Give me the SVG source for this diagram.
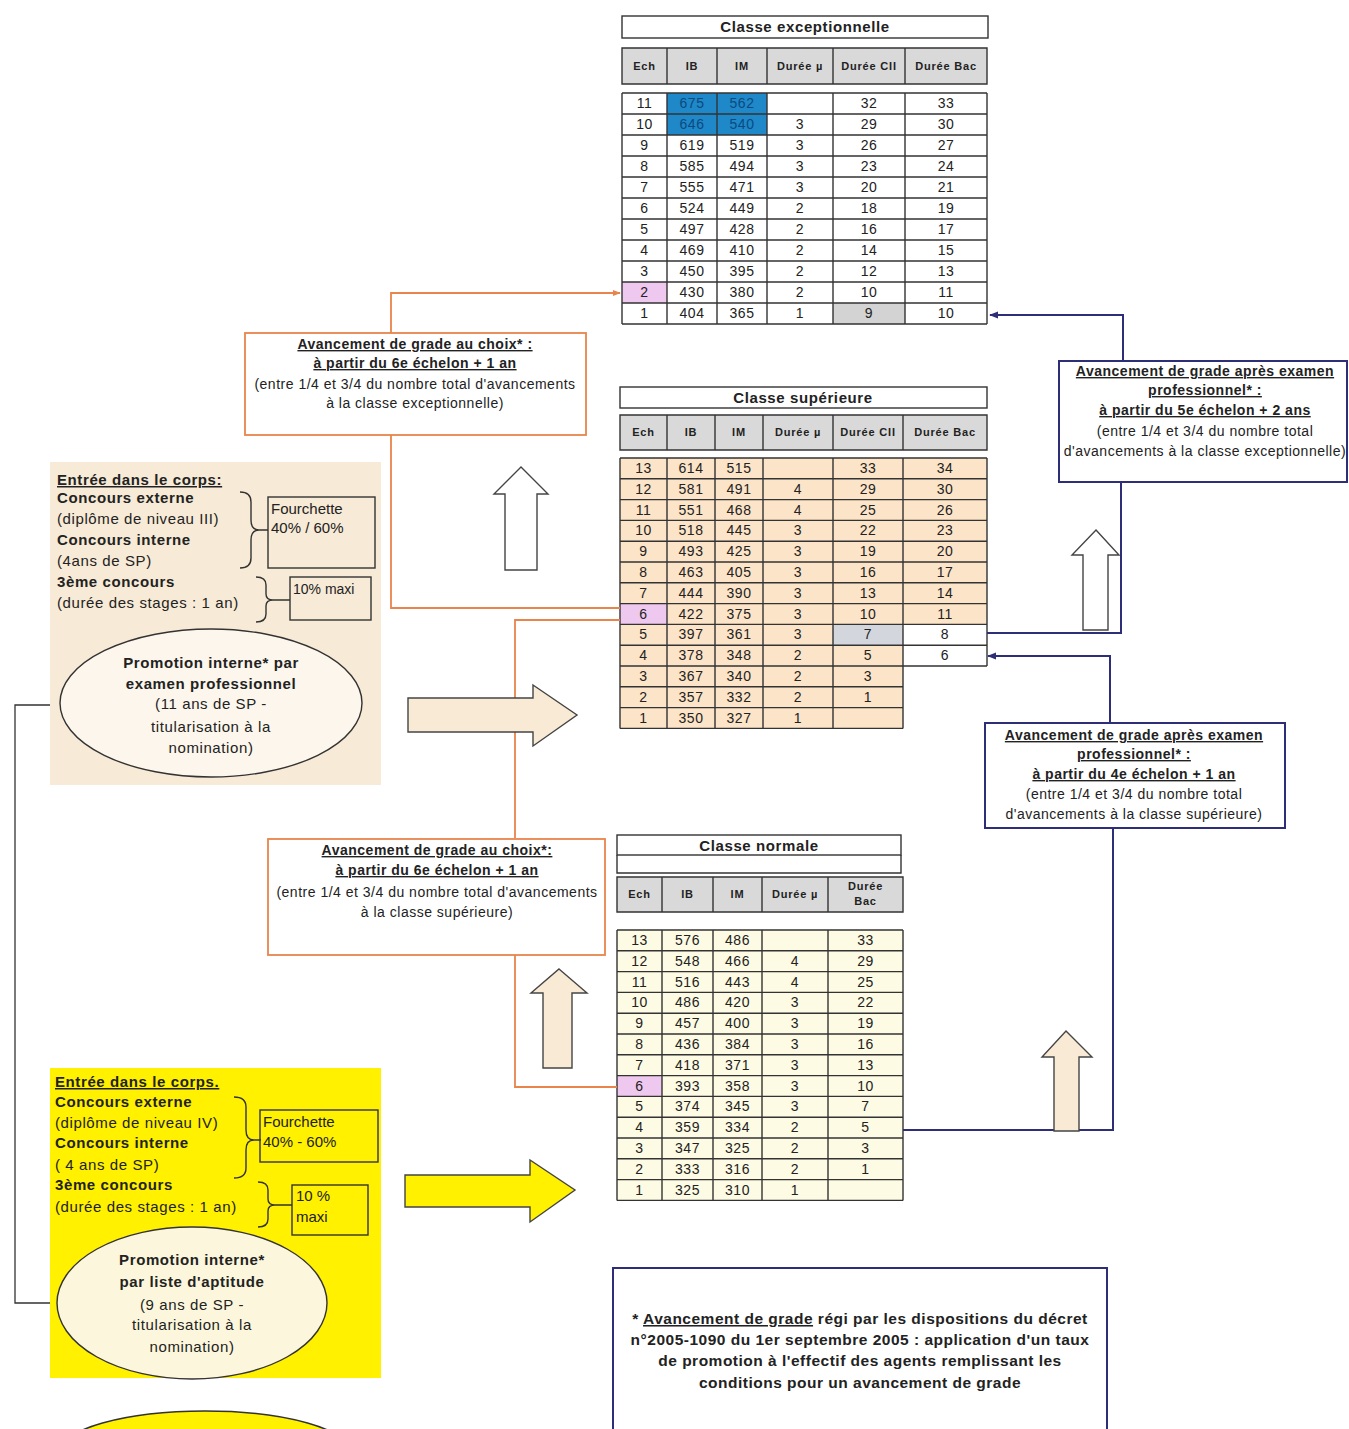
<svg xmlns="http://www.w3.org/2000/svg" width="1349" height="1429" viewBox="0 0 1349 1429">
<style>
text{font-family:"Liberation Sans",Arial,sans-serif;fill:#222}
.num{font-size:14px;letter-spacing:0.5px;text-anchor:middle}
.hd{font-size:11px;letter-spacing:0.8px;font-weight:bold;text-anchor:middle}
.ttl{font-size:15px;letter-spacing:0.6px;font-weight:bold;text-anchor:middle}
.grid{stroke:#333;stroke-width:1.4;fill:none}
.b{font-weight:bold}
.u{text-decoration:underline}
.lt{font-size:15px;letter-spacing:0.6px}
.bx{font-size:14px;letter-spacing:0.5px;text-anchor:middle}
.brace{stroke:#333;stroke-width:1.4;fill:none}
.or{stroke:#e8844c;stroke-width:1.8;fill:none}
.bl{stroke:#2e2e78;stroke-width:2;fill:none}
.bigarrow{stroke:#444;stroke-width:1.4}
.fn{font-size:15.5px;letter-spacing:0.5px;font-weight:bold;text-anchor:middle}
</style>
<defs>
<marker id="mOr" viewBox="0 0 10 10" refX="9" refY="5" markerWidth="8" markerHeight="8" markerUnits="userSpaceOnUse" orient="auto"><path d="M0,1 L10,5 L0,9 z" fill="#e8844c"/></marker>
<marker id="mBl" viewBox="0 0 10 10" refX="9" refY="5" markerWidth="9" markerHeight="9" markerUnits="userSpaceOnUse" orient="auto"><path d="M0,1 L10,5 L0,9 z" fill="#2e2e78"/></marker>
</defs>
<rect width="1349" height="1429" fill="#ffffff"/>

<!-- Classe exceptionnelle -->
<g id="table-exceptionnelle">
<rect x="622" y="16" width="366" height="22" fill="#fff" class="grid"/>
<text class="ttl" x="805" y="32">Classe exceptionnelle</text>
<rect x="622" y="48" width="365" height="36" fill="#d9d9d9"/>
<path class="grid" d="M622 48H987V84H622Z M667 48V84 M717 48V84 M767 48V84 M833 48V84 M905 48V84"/>
<text class="hd" y="70"><tspan x="644.5">Ech</tspan><tspan x="692">IB</tspan><tspan x="742">IM</tspan><tspan x="800">Durée µ</tspan><tspan x="869">Durée CII</tspan><tspan x="946">Durée Bac</tspan></text>
<rect x="622" y="93" width="365" height="231" fill="#fff"/>
<rect x="667" y="93" width="100" height="42" fill="#1e88c8"/>
<rect x="622" y="282" width="45" height="21" fill="#efc8ef"/>
<rect x="833" y="303" width="72" height="21" fill="#d3d3d3"/>
<path class="grid" d="M622 93H987M622 114H987M622 135H987M622 156H987M622 177H987M622 198H987M622 219H987M622 240H987M622 261H987M622 282H987M622 303H987M622 324H987 M622 93V324M667 93V324M717 93V324M767 93V324M833 93V324M905 93V324M987 93V324"/>
<text class="num" y="108"><tspan x="644.5">11</tspan><tspan x="692" style="fill:#0d4a80">675</tspan><tspan x="742" style="fill:#0d4a80">562</tspan><tspan x="869">32</tspan><tspan x="946">33</tspan></text>
<text class="num" y="129"><tspan x="644.5">10</tspan><tspan x="692" style="fill:#0d4a80">646</tspan><tspan x="742" style="fill:#0d4a80">540</tspan><tspan x="800">3</tspan><tspan x="869">29</tspan><tspan x="946">30</tspan></text>
<text class="num" y="150"><tspan x="644.5">9</tspan><tspan x="692">619</tspan><tspan x="742">519</tspan><tspan x="800">3</tspan><tspan x="869">26</tspan><tspan x="946">27</tspan></text>
<text class="num" y="171"><tspan x="644.5">8</tspan><tspan x="692">585</tspan><tspan x="742">494</tspan><tspan x="800">3</tspan><tspan x="869">23</tspan><tspan x="946">24</tspan></text>
<text class="num" y="192"><tspan x="644.5">7</tspan><tspan x="692">555</tspan><tspan x="742">471</tspan><tspan x="800">3</tspan><tspan x="869">20</tspan><tspan x="946">21</tspan></text>
<text class="num" y="213"><tspan x="644.5">6</tspan><tspan x="692">524</tspan><tspan x="742">449</tspan><tspan x="800">2</tspan><tspan x="869">18</tspan><tspan x="946">19</tspan></text>
<text class="num" y="234"><tspan x="644.5">5</tspan><tspan x="692">497</tspan><tspan x="742">428</tspan><tspan x="800">2</tspan><tspan x="869">16</tspan><tspan x="946">17</tspan></text>
<text class="num" y="255"><tspan x="644.5">4</tspan><tspan x="692">469</tspan><tspan x="742">410</tspan><tspan x="800">2</tspan><tspan x="869">14</tspan><tspan x="946">15</tspan></text>
<text class="num" y="276"><tspan x="644.5">3</tspan><tspan x="692">450</tspan><tspan x="742">395</tspan><tspan x="800">2</tspan><tspan x="869">12</tspan><tspan x="946">13</tspan></text>
<text class="num" y="297"><tspan x="644.5">2</tspan><tspan x="692">430</tspan><tspan x="742">380</tspan><tspan x="800">2</tspan><tspan x="869">10</tspan><tspan x="946">11</tspan></text>
<text class="num" y="318"><tspan x="644.5">1</tspan><tspan x="692">404</tspan><tspan x="742">365</tspan><tspan x="800">1</tspan><tspan x="869">9</tspan><tspan x="946">10</tspan></text>
</g>

<!-- Classe supérieure -->
<g id="table-superieure">
<rect x="620" y="387" width="367" height="21" fill="#fce4c8" class="grid"/>
<text class="ttl" x="803" y="403">Classe supérieure</text>
<rect x="620" y="415" width="367" height="35" fill="#d9d9d9"/>
<path class="grid" d="M620 415H987V450H620Z M667 415V450 M715 415V450 M763 415V450 M833 415V450 M903 415V450"/>
<text class="hd" y="436"><tspan x="643.5">Ech</tspan><tspan x="691">IB</tspan><tspan x="739">IM</tspan><tspan x="798">Durée µ</tspan><tspan x="868">Durée CII</tspan><tspan x="945">Durée Bac</tspan></text>
<rect x="620" y="458" width="367" height="208" fill="#fce4c8"/>
<rect x="620" y="666" width="283" height="62.4" fill="#fce4c8"/>
<rect x="903" y="624.4" width="84" height="41.6" fill="#fff"/>
<rect x="620" y="603.6" width="47" height="20.8" fill="#efc8ef"/>
<rect x="833" y="624.4" width="70" height="20.8" fill="#d3d6dc"/>
<path class="grid" d="M620 458H987M620 478.8H987M620 499.6H987M620 520.4H987M620 541.2H987M620 562H987M620 582.8H987M620 603.6H987M620 624.4H987M620 645.2H987M620 666H987M620 686.8H903M620 707.6H903M620 728.4H903 M620 458V728.4M667 458V728.4M715 458V728.4M763 458V728.4M833 458V728.4M903 458V728.4M987 458V666"/>
<text class="num" y="473"><tspan x="643.5">13</tspan><tspan x="691">614</tspan><tspan x="739">515</tspan><tspan x="868">33</tspan><tspan x="945">34</tspan></text>
<text class="num" y="494"><tspan x="643.5">12</tspan><tspan x="691">581</tspan><tspan x="739">491</tspan><tspan x="798">4</tspan><tspan x="868">29</tspan><tspan x="945">30</tspan></text>
<text class="num" y="515"><tspan x="643.5">11</tspan><tspan x="691">551</tspan><tspan x="739">468</tspan><tspan x="798">4</tspan><tspan x="868">25</tspan><tspan x="945">26</tspan></text>
<text class="num" y="535"><tspan x="643.5">10</tspan><tspan x="691">518</tspan><tspan x="739">445</tspan><tspan x="798">3</tspan><tspan x="868">22</tspan><tspan x="945">23</tspan></text>
<text class="num" y="556"><tspan x="643.5">9</tspan><tspan x="691">493</tspan><tspan x="739">425</tspan><tspan x="798">3</tspan><tspan x="868">19</tspan><tspan x="945">20</tspan></text>
<text class="num" y="577"><tspan x="643.5">8</tspan><tspan x="691">463</tspan><tspan x="739">405</tspan><tspan x="798">3</tspan><tspan x="868">16</tspan><tspan x="945">17</tspan></text>
<text class="num" y="598"><tspan x="643.5">7</tspan><tspan x="691">444</tspan><tspan x="739">390</tspan><tspan x="798">3</tspan><tspan x="868">13</tspan><tspan x="945">14</tspan></text>
<text class="num" y="619"><tspan x="643.5">6</tspan><tspan x="691">422</tspan><tspan x="739">375</tspan><tspan x="798">3</tspan><tspan x="868">10</tspan><tspan x="945">11</tspan></text>
<text class="num" y="639"><tspan x="643.5">5</tspan><tspan x="691">397</tspan><tspan x="739">361</tspan><tspan x="798">3</tspan><tspan x="868">7</tspan><tspan x="945">8</tspan></text>
<text class="num" y="660"><tspan x="643.5">4</tspan><tspan x="691">378</tspan><tspan x="739">348</tspan><tspan x="798">2</tspan><tspan x="868">5</tspan><tspan x="945">6</tspan></text>
<text class="num" y="681"><tspan x="643.5">3</tspan><tspan x="691">367</tspan><tspan x="739">340</tspan><tspan x="798">2</tspan><tspan x="868">3</tspan></text>
<text class="num" y="702"><tspan x="643.5">2</tspan><tspan x="691">357</tspan><tspan x="739">332</tspan><tspan x="798">2</tspan><tspan x="868">1</tspan></text>
<text class="num" y="723"><tspan x="643.5">1</tspan><tspan x="691">350</tspan><tspan x="739">327</tspan><tspan x="798">1</tspan></text>
</g>

<!-- Classe normale -->
<g id="table-normale">
<rect x="617" y="835" width="284" height="20" fill="#fdfbe4" class="grid"/>
<path class="grid" d="M617 855V873H901V855"/>
<text class="ttl" x="759" y="851">Classe normale</text>
<rect x="617" y="877" width="286" height="35" fill="#d9d9d9"/>
<path class="grid" d="M617 877H903V912H617Z M662 877V912 M713 877V912 M762 877V912 M828 877V912"/>
<text class="hd" y="898"><tspan x="639.5">Ech</tspan><tspan x="687.5">IB</tspan><tspan x="737.5">IM</tspan><tspan x="795">Durée µ</tspan></text>
<text class="hd" x="865.5" y="890">Durée</text>
<text class="hd" x="865.5" y="905">Bac</text>
<rect x="617" y="930" width="286" height="270.4" fill="#fdfbe4"/>
<rect x="617" y="1075.6" width="45" height="20.8" fill="#efc8ef"/>
<path class="grid" d="M617 930H903M617 950.8H903M617 971.6H903M617 992.4H903M617 1013.2H903M617 1034H903M617 1054.8H903M617 1075.6H903M617 1096.4H903M617 1117.2H903M617 1138H903M617 1158.8H903M617 1179.6H903M617 1200.4H903 M617 930V1200.4M662 930V1200.4M713 930V1200.4M762 930V1200.4M828 930V1200.4M903 930V1200.4"/>
<text class="num" y="945"><tspan x="639.5">13</tspan><tspan x="687.5">576</tspan><tspan x="737.5">486</tspan><tspan x="865.5">33</tspan></text>
<text class="num" y="966"><tspan x="639.5">12</tspan><tspan x="687.5">548</tspan><tspan x="737.5">466</tspan><tspan x="795">4</tspan><tspan x="865.5">29</tspan></text>
<text class="num" y="987"><tspan x="639.5">11</tspan><tspan x="687.5">516</tspan><tspan x="737.5">443</tspan><tspan x="795">4</tspan><tspan x="865.5">25</tspan></text>
<text class="num" y="1007"><tspan x="639.5">10</tspan><tspan x="687.5">486</tspan><tspan x="737.5">420</tspan><tspan x="795">3</tspan><tspan x="865.5">22</tspan></text>
<text class="num" y="1028"><tspan x="639.5">9</tspan><tspan x="687.5">457</tspan><tspan x="737.5">400</tspan><tspan x="795">3</tspan><tspan x="865.5">19</tspan></text>
<text class="num" y="1049"><tspan x="639.5">8</tspan><tspan x="687.5">436</tspan><tspan x="737.5">384</tspan><tspan x="795">3</tspan><tspan x="865.5">16</tspan></text>
<text class="num" y="1070"><tspan x="639.5">7</tspan><tspan x="687.5">418</tspan><tspan x="737.5">371</tspan><tspan x="795">3</tspan><tspan x="865.5">13</tspan></text>
<text class="num" y="1091"><tspan x="639.5">6</tspan><tspan x="687.5">393</tspan><tspan x="737.5">358</tspan><tspan x="795">3</tspan><tspan x="865.5">10</tspan></text>
<text class="num" y="1111"><tspan x="639.5">5</tspan><tspan x="687.5">374</tspan><tspan x="737.5">345</tspan><tspan x="795">3</tspan><tspan x="865.5">7</tspan></text>
<text class="num" y="1132"><tspan x="639.5">4</tspan><tspan x="687.5">359</tspan><tspan x="737.5">334</tspan><tspan x="795">2</tspan><tspan x="865.5">5</tspan></text>
<text class="num" y="1153"><tspan x="639.5">3</tspan><tspan x="687.5">347</tspan><tspan x="737.5">325</tspan><tspan x="795">2</tspan><tspan x="865.5">3</tspan></text>
<text class="num" y="1174"><tspan x="639.5">2</tspan><tspan x="687.5">333</tspan><tspan x="737.5">316</tspan><tspan x="795">2</tspan><tspan x="865.5">1</tspan></text>
<text class="num" y="1195"><tspan x="639.5">1</tspan><tspan x="687.5">325</tspan><tspan x="737.5">310</tspan><tspan x="795">1</tspan></text>
</g>

<!-- Connectors -->
<g id="connectors">
<path class="or" d="M620 608H391V435"/>
<path class="or" d="M391 333V293H620" marker-end="url(#mOr)"/>
<path class="or" d="M617 1087H515V955"/>
<path class="or" d="M515 838V620H620"/>
<path class="bl" d="M987 633H1121V482"/>
<path class="bl" d="M1123 361V315H990" marker-end="url(#mBl)"/>
<path class="bl" d="M903 1130H1113V829"/>
<path class="bl" d="M1110 722V656H988" marker-end="url(#mBl)"/>
<path d="M60 705H15V1303H57" stroke="#333" stroke-width="1.3" fill="none"/>
</g>

<!-- Beige entry box -->
<g id="entree-beige">
<rect x="50" y="462" width="331" height="323" fill="#f7ead6"/>
<text class="lt b u" x="57" y="485">Entrée dans le corps:</text>
<text class="lt b" x="57" y="503">Concours externe</text>
<text class="lt" x="57" y="524">(diplôme de niveau III)</text>
<text class="lt b" x="57" y="545">Concours interne</text>
<text class="lt" x="57" y="566">(4ans de SP)</text>
<text class="lt b" x="57" y="587">3ème concours</text>
<text class="lt" x="57" y="608">(durée des stages : 1 an)</text>
<path class="brace" d="M240 492Q251 492 251 502V520Q251 530 259 530Q251 530 251 540V558Q251 568 240 568M259 530H268"/>
<path class="brace" d="M256 577Q266 577 266 585V594Q266 600 273 600Q266 600 266 606V614Q266 622 256 622M273 600H290"/>
<rect x="268" y="497" width="107" height="71" fill="none" stroke="#333" stroke-width="1.4"/>
<text class="lt" x="271" y="514" style="letter-spacing:0">Fourchette</text>
<text class="lt" x="271" y="533" style="letter-spacing:0">40% / 60%</text>
<rect x="290" y="577" width="81" height="43" fill="none" stroke="#333" stroke-width="1.4"/>
<text x="293" y="594" style="font-size:14px">10% maxi</text>
</g>
<g id="promo-examen">
<ellipse cx="211" cy="703" rx="151" ry="74" fill="#fcf6ec" stroke="#333" stroke-width="1.4"/>
<text class="lt b" x="211" y="668" text-anchor="middle">Promotion interne* par</text>
<text class="lt b" x="211" y="689" text-anchor="middle">examen professionnel</text>
<text class="lt" x="211" y="709" text-anchor="middle">(11 ans de SP -</text>
<text class="lt" x="211" y="732" text-anchor="middle">titularisation à la</text>
<text class="lt" x="211" y="753" text-anchor="middle">nomination)</text>
</g>

<!-- Yellow entry box -->
<g id="entree-jaune">
<rect x="50" y="1068" width="331" height="310" fill="#fff100"/>
<text class="lt b u" x="55" y="1087">Entrée dans le corps.</text>
<text class="lt b" x="55" y="1107">Concours externe</text>
<text class="lt" x="55" y="1128">(diplôme de niveau IV)</text>
<text class="lt b" x="55" y="1148">Concours interne</text>
<text class="lt" x="55" y="1170">( 4 ans de SP)</text>
<text class="lt b" x="55" y="1190">3ème concours</text>
<text class="lt" x="55" y="1212">(durée des stages : 1 an)</text>
<path class="brace" d="M234 1097Q246 1097 246 1107V1130Q246 1140 254 1140Q246 1140 246 1150V1168Q246 1178 234 1178M254 1140H261"/>
<path class="brace" d="M258 1182Q268 1182 268 1190V1199Q268 1205 275 1205Q268 1205 268 1211V1219Q268 1227 258 1227M275 1205H292"/>
<rect x="260" y="1110" width="118" height="52" fill="none" stroke="#333" stroke-width="1.4"/>
<text class="lt" x="263" y="1127" style="letter-spacing:0">Fourchette</text>
<text class="lt" x="263" y="1147" style="letter-spacing:0">40% - 60%</text>
<rect x="292" y="1185" width="76" height="50" fill="none" stroke="#333" stroke-width="1.4"/>
<text class="lt" x="296" y="1201" style="letter-spacing:0">10 %</text>
<text class="lt" x="296" y="1222" style="letter-spacing:0">maxi</text>
</g>
<g id="promo-liste">
<ellipse cx="192" cy="1303" rx="135" ry="76" fill="#fcf7dc" stroke="#333" stroke-width="1.4"/>
<text class="lt b" x="192" y="1265" text-anchor="middle">Promotion interne*</text>
<text class="lt b" x="192" y="1287" text-anchor="middle">par liste d'aptitude</text>
<text class="lt" x="192" y="1310" text-anchor="middle">(9 ans de SP -</text>
<text class="lt" x="192" y="1330" text-anchor="middle">titularisation à la</text>
<text class="lt" x="192" y="1352" text-anchor="middle">nomination)</text>
</g>
<g id="ellipse-bas">
<ellipse cx="205" cy="1452" rx="145" ry="41" fill="#fff100" stroke="#333" stroke-width="1.6"/>
</g>

<!-- Big arrows -->
<g id="big-arrows">
<polygon class="bigarrow" fill="#fff" points="521,467 548,494 537,494 537,570 505,570 505,494 494,494"/>
<polygon class="bigarrow" fill="#f8ead5" points="408,698 533,698 533,685 577,715 533,746 533,732 408,732"/>
<polygon class="bigarrow" fill="#f8ead5" points="559,969 587,993 572,993 572,1068 543,1068 543,993 531,993"/>
<polygon class="bigarrow" fill="#fff100" points="405,1175 530,1175 530,1160 575,1190 530,1222 530,1207 405,1207"/>
<polygon class="bigarrow" fill="#fff" points="1096,530 1119,555 1108,555 1108,630 1083,630 1083,555 1072,555"/>
<polygon class="bigarrow" fill="#f8ead5" points="1066,1031 1092,1057 1079,1057 1079,1131 1054,1131 1054,1057 1042,1057"/>
</g>

<!-- Orange boxes -->
<g id="choix-exceptionnelle">
<rect x="245" y="333" width="341" height="102" fill="#fff" stroke="#e8844c" stroke-width="1.8"/>
<text class="bx b u" x="415" y="349">Avancement de grade au choix* :</text>
<text class="bx b u" x="415" y="368">à partir du 6e échelon + 1 an</text>
<text class="bx" x="415" y="389">(entre 1/4 et 3/4 du nombre total d'avancements</text>
<text class="bx" x="415" y="408">à la classe exceptionnelle)</text>
</g>
<g id="choix-superieure">
<rect x="268" y="839" width="337" height="116" fill="#fff" stroke="#e8844c" stroke-width="1.8"/>
<text class="bx b u" x="437" y="855">Avancement de grade au choix*:</text>
<text class="bx b u" x="437" y="875">à partir du 6e échelon + 1 an</text>
<text class="bx" x="437" y="897">(entre 1/4 et 3/4 du nombre total d'avancements</text>
<text class="bx" x="437" y="917">à la classe supérieure)</text>
</g>

<!-- Blue boxes -->
<g id="examen-exceptionnelle">
<rect x="1059" y="361" width="288" height="121" fill="#fff" stroke="#2e2e78" stroke-width="2"/>
<text class="bx b u" x="1205" y="376">Avancement de grade après examen</text>
<text class="bx b u" x="1205" y="395">professionnel* :</text>
<text class="bx b u" x="1205" y="415">à partir du 5e échelon + 2 ans</text>
<text class="bx" x="1205" y="436">(entre 1/4 et 3/4 du nombre total</text>
<text class="bx" x="1205" y="456">d'avancements à la classe exceptionnelle)</text>
</g>
<g id="examen-superieure">
<rect x="985" y="723" width="300" height="105" fill="#fff" stroke="#2e2e78" stroke-width="2"/>
<text class="bx b u" x="1134" y="740">Avancement de grade après examen</text>
<text class="bx b u" x="1134" y="759">professionnel* :</text>
<text class="bx b u" x="1134" y="779">à partir du 4e échelon + 1 an</text>
<text class="bx" x="1134" y="799">(entre 1/4 et 3/4 du nombre total</text>
<text class="bx" x="1134" y="819">d'avancements à la classe supérieure)</text>
</g>

<!-- Footnote -->
<g id="note">
<rect x="613" y="1268" width="494" height="175" fill="#fff" stroke="#2e2e78" stroke-width="2"/>
<text class="fn" x="860" y="1324">* <tspan class="u">Avancement de grade</tspan> régi par les dispositions du décret</text>
<text class="fn" x="860" y="1345">n°2005-1090 du 1er septembre 2005 : application d'un taux</text>
<text class="fn" x="860" y="1366">de promotion à l'effectif des agents remplissant les</text>
<text class="fn" x="860" y="1388">conditions pour un avancement de grade</text>
</g>
</svg>
